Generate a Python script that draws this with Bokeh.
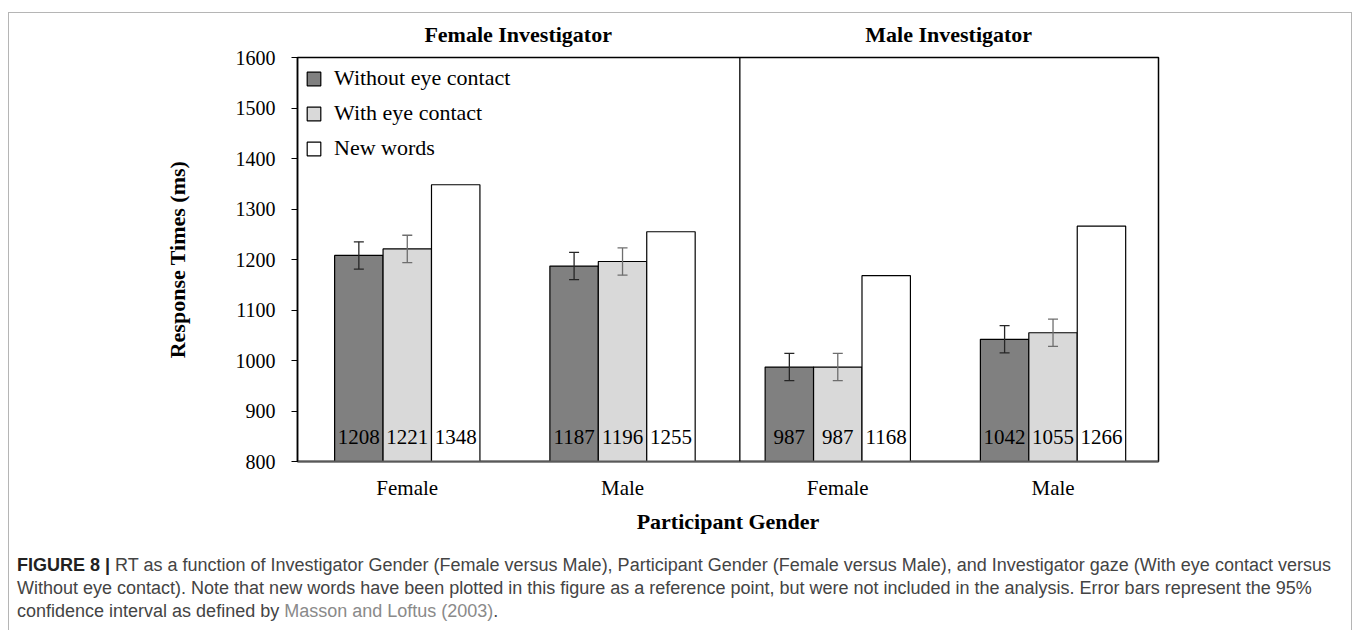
from bokeh.plotting import figure
from bokeh.models import (Range1d, FixedTicker, Span, Whisker, ColumnDataSource,
                          Div, TeeHead)
from bokeh.layouts import column
from bokeh.embed import file_html
from bokeh.resources import INLINE
from bokeh.core.properties import value

# ---------------- data ----------------
participant_gender = ["Female", "Male", "Female", "Male"]
investigator_titles = ["Female Investigator", "Male Investigator"]
series_names = ["Without eye contact", "With eye contact", "New words"]
without_eye = [1208, 1187, 987, 1042]
with_eye = [1221, 1196, 987, 1055]
new_words = [1348, 1255, 1168, 1266]
ci_without = [27, 27, 27, 27]
ci_with = [27, 27, 27, 27]
y_ticks = [800, 900, 1000, 1100, 1200, 1300, 1400, 1500, 1600]

SERIF = "Liberation Serif"
centers = [i + 0.5 for i in range(len(participant_gender))]
bw = 0.225
offsets = [-bw, 0.0, bw]
fills = ["#808080", "#d9d9d9", "#ffffff"]
y0 = 800
x_start, x_end = -0.01, 3.99
divider_x = 2.045

W = 1342
BL, BR = 288, 193
HEADER_H = 32
BT = 12

p = figure(width=W, height=527 - HEADER_H, x_range=Range1d(x_start, x_end), y_range=Range1d(800, 1600),
           output_backend="svg", toolbar_location=None,
           min_border_left=BL, min_border_right=BR, min_border_top=BT, min_border_bottom=79)
p.grid.visible = False
p.outline_line_color = "black"
p.outline_line_width = 1.5
p.background_fill_color = "white"
p.border_fill_color = "white"

all_series = [without_eye, with_eye, new_words]
for j, vals in enumerate(all_series):
    xs = [c + offsets[j] for c in centers]
    src = ColumnDataSource(dict(x=xs, top=vals, lab=[str(v) for v in vals]))
    p.vbar(x="x", top="top", bottom=y0, width=bw, source=src, fill_color=fills[j],
           line_color="black", line_width=1.2, legend_label=series_names[j])
    p.text(x="x", y=848, text="lab", source=src, text_align="center", text_baseline="middle",
           text_font=value(SERIF), text_font_size="21px", text_color="black")

for j, (vals, ci, col) in enumerate([(without_eye, ci_without, "#262626"), (with_eye, ci_with, "#6e6e6e")]):
    xs = [c + offsets[j] for c in centers]
    wsrc = ColumnDataSource(dict(x=xs, upper=[v + e for v, e in zip(vals, ci)],
                                 lower=[v - e for v, e in zip(vals, ci)]))
    p.add_layout(Whisker(source=wsrc, base="x", upper="upper", lower="lower",
                         line_color=col, line_width=1.3, level="overlay",
                         upper_head=TeeHead(size=10, line_color=col, line_width=1.3),
                         lower_head=TeeHead(size=10, line_color=col, line_width=1.3)))

p.add_layout(Span(location=divider_x, dimension="height", line_color="black", line_width=1.3))

# legend
lg = p.legend[0]
lg.location = "top_left"
lg.border_line_color = None
lg.background_fill_alpha = 0
lg.label_text_font = SERIF
lg.label_text_font_size = "22px"
lg.label_text_color = "black"
lg.glyph_width = 17
lg.glyph_height = 17
lg.label_height = 20
lg.spacing = 9
lg.padding = 10
lg.margin = 8
lg.label_standoff = 12

# axes
ya = p.yaxis[0]
ya.ticker = FixedTicker(ticks=y_ticks)
ya.major_label_text_font = SERIF
ya.major_label_text_font_size = "20px"
ya.major_label_text_color = "black"
ya.major_tick_out = 6
ya.major_tick_in = 0
ya.minor_tick_out = 0
ya.minor_tick_in = 0
ya.major_label_standoff = 16
ya.axis_line_color = "black"
ya.axis_line_width = 1.5
ya.major_tick_line_color = "black"
ya.axis_label = "Response Times (ms)"
ya.axis_label_text_font = SERIF
ya.axis_label_text_font_style = "bold"
ya.axis_label_text_font_size = "22px"
ya.axis_label_text_color = "black"
ya.axis_label_standoff = 43

xa = p.xaxis[0]
xa.ticker = FixedTicker(ticks=centers)
xa.major_label_overrides = {c: g for c, g in zip(centers, participant_gender)}
xa.major_label_text_font = SERIF
xa.major_label_text_font_size = "21px"
xa.major_label_text_color = "black"
xa.major_tick_out = 0
xa.major_tick_in = 0
xa.minor_tick_out = 0
xa.minor_tick_in = 0
xa.major_label_standoff = 14
xa.axis_line_color = "#595959"
xa.axis_line_width = 2
xa.axis_label = "Participant Gender"
xa.axis_label_text_font = SERIF
xa.axis_label_text_font_style = "bold"
xa.axis_label_text_font_size = "22px"
xa.axis_label_text_color = "black"
xa.axis_label_standoff = 6

# section titles above the frame, centred on each investigator half
frame_w = W - BL - BR
def to_px(xv):
    return BL + (xv - x_start) / (x_end - x_start) * frame_w

title_px = [to_px((x_start + divider_x) / 2), to_px((divider_x + x_end) / 2)]
spans = "".join(
    f'<span style="position:absolute;left:{tx:.1f}px;top:11px;transform:translateX(-50%);'
    f'white-space:nowrap;">{tt}</span>'
    for tx, tt in zip(title_px, investigator_titles)
)
header = Div(text=(f'<div style="position:relative;width:{W}px;height:{HEADER_H}px;overflow:visible;'
                   f'font-family:\'{SERIF}\',serif;font-weight:bold;font-size:22px;line-height:22px;color:black;">'
                   f'{spans}</div>'),
             width=W, height=HEADER_H, margin=0, styles={"overflow": "visible", "z-index": "2"})

caption_html = (
    '<div style="font-family:\'Liberation Sans\',sans-serif;'
    'font-size:18px;line-height:23px;color:#444444;padding-left:8px;padding-top:14px;white-space:nowrap;">'
    '<b style="color:#222">FIGURE 8 |</b> RT as a function of Investigator Gender (Female versus Male), '
    'Participant Gender (Female versus Male), and Investigator gaze (With eye contact versus<br>'
    'Without eye contact). Note that new words have been plotted in this figure as a reference point, '
    'but were not included in the analysis. Error bars represent the 95%<br>'
    'confidence interval as defined by <span style="color:#8a8a8a">Masson and Loftus (2003)</span>.'
    '</div>'
)
cap = Div(text=caption_html, width=W, height=90, margin=0)

layout = column(header, p, cap, margin=(12, 0, 0, 8), spacing=0,
                styles={"border-top": "1px solid #b5b5b5", "border-left": "1px solid #b5b5b5",
                        "border-right": "1px solid #b5b5b5", "background": "white"})

open("out.html", "w").write(file_html(layout, INLINE))
